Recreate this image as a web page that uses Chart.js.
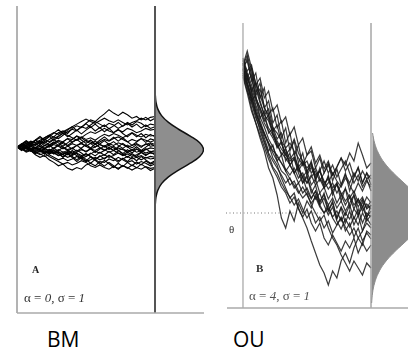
<!DOCTYPE html>
<html>
<head>
<meta charset="utf-8">
<script src="https://cdn.jsdelivr.net/npm/chart.js@4.4.0/dist/chart.umd.min.js"></script>
<style>
    body { margin: 0; background: #fff; }
    #page { position: relative; width: 408px; height: 353px; overflow: hidden; }
    #boxA { position: absolute; left: 0; top: 0; }
    #boxB { position: absolute; left: 204px; top: 0; }
    .name { position: absolute; top: 325px; font: 21px "Open Sans", sans-serif; color: #000; }
</style>
</head>
<body>
<div id="page">
    <canvas id="boxA" width="204" height="320"></canvas>
    <canvas id="boxB" width="204" height="320"></canvas>
    <div class="name" style="left:47px">BM</div>
    <div class="name" style="left:233px">OU</div>
</div>
<script>
// time steps (0..30 = t from 0 to 1)
const steps = [0,1,2,3,4,5,6,7,8,9,10,11,12,13,14,15,16,17,18,19,20,21,22,23,24,25,26,27,28,29,30];

// BM paths, alpha = 0, sigma = 1
const bm1 = [0,0.15,0.05,0.25,0.4,0.3,0.55,0.7,0.6,0.85,0.95,0.8,1.1,1.25,1.15,1.4,1.6,1.5,1.75,1.95,2.2,2.0,1.85,2.05,1.9,1.7,1.8,1.6,1.75,1.55,1.7];
const bm2 = [0,-0.1,-0.3,-0.2,-0.45,-0.6,-0.5,-0.75,-0.9,-1.1,-1.0,-1.25,-1.35,-1.2,-1.3,-1.05,-0.95,-1.1,-0.85,-0.9,-0.7,-0.8,-0.6,-0.75,-0.9,-0.8,-1.0,-0.85,-0.95,-1.1,-1.0];
const bm3 = [0,0.1,0.2,0.05,0.15,0.35,0.25,0.45,0.6,0.5,0.7,0.9,1.05,0.95,1.2,1.1,1.3,1.5,1.35,1.2,1.4,1.3,1.1,1.25,1.45,1.3,1.5,1.4,1.2,1.35,1.3];
const bm4 = [0,-0.05,0.1,0.2,0.1,0.3,0.2,0.1,0.25,0.4,0.3,0.5,0.45,0.65,0.55,0.75,0.9,0.8,0.95,1.1,0.95,0.85,1.0,0.9,1.1,1.0,0.85,0.95,1.1,1.0,1.05];
const bm5 = [0,0.12,-0.05,0.08,0.2,0.05,-0.1,0.05,0.2,0.35,0.2,0.1,0.3,0.45,0.6,0.45,0.55,0.4,0.6,0.75,0.65,0.8,0.7,0.55,0.7,0.85,0.7,0.6,0.75,0.65,0.7];
const bm6 = [0,-0.1,0.05,-0.05,-0.2,-0.1,0.1,0.0,0.15,0.05,-0.1,0.05,0.2,0.1,0.25,0.4,0.3,0.15,0.3,0.45,0.35,0.5,0.6,0.45,0.3,0.45,0.35,0.5,0.4,0.3,0.4];
const bm7 = [0,0.05,-0.1,-0.2,-0.05,-0.15,-0.3,-0.2,-0.05,0.1,0.0,-0.15,-0.05,0.1,0.2,0.05,-0.1,0.0,0.15,0.05,0.2,0.1,0.25,0.15,0.0,0.1,0.2,0.05,0.15,0.25,0.15];
const bm8 = [0,-0.15,-0.05,-0.2,-0.35,-0.25,-0.1,-0.2,-0.35,-0.5,-0.4,-0.3,-0.45,-0.3,-0.15,-0.25,-0.1,-0.2,-0.05,-0.15,-0.3,-0.2,-0.05,-0.15,-0.3,-0.2,-0.1,-0.25,-0.15,-0.05,-0.1];
const bm9 = [0,0.1,0.0,-0.15,-0.05,-0.2,-0.35,-0.25,-0.4,-0.3,-0.45,-0.6,-0.5,-0.35,-0.5,-0.4,-0.55,-0.7,-0.55,-0.45,-0.6,-0.5,-0.35,-0.5,-0.4,-0.55,-0.45,-0.3,-0.45,-0.35,-0.4];
const bm10 = [0,-0.05,-0.2,-0.1,-0.25,-0.4,-0.55,-0.45,-0.6,-0.75,-0.65,-0.8,-0.7,-0.55,-0.7,-0.85,-0.75,-0.6,-0.75,-0.65,-0.5,-0.65,-0.8,-0.7,-0.55,-0.7,-0.6,-0.75,-0.6,-0.7,-0.65];
const bm11 = [0,0.15,0.3,0.2,0.4,0.55,0.45,0.3,0.5,0.65,0.8,0.7,0.55,0.4,0.55,0.35,0.2,0.35,0.15,0.0,0.1,-0.05,-0.2,-0.1,-0.25,-0.15,-0.3,-0.2,-0.35,-0.25,-0.3];
const bm12 = [0,-0.1,-0.25,-0.15,-0.3,-0.45,-0.35,-0.55,-0.7,-0.85,-1.0,-0.9,-1.05,-0.95,-0.8,-0.9,-1.1,-1.2,-1.05,-1.2,-1.3,-1.15,-1.25,-1.1,-1.2,-1.35,-1.2,-1.3,-1.15,-1.25,-1.2];
const bm13 = [0,0.05,0.2,0.35,0.25,0.4,0.55,0.7,0.85,0.75,0.9,1.05,1.2,1.35,1.5,1.65,1.5,1.4,1.55,1.7,1.55,1.45,1.6,1.45,1.3,1.45,1.55,1.7,1.6,1.75,1.8];
const bm14 = [0,-0.05,0.05,-0.1,0.0,-0.15,-0.25,-0.4,-0.3,-0.15,-0.3,-0.2,-0.35,-0.5,-0.65,-0.55,-0.4,-0.25,-0.35,-0.2,-0.05,-0.2,-0.35,-0.45,-0.3,-0.45,-0.6,-0.5,-0.65,-0.55,-0.6];
const bm15 = [0,0.2,0.0,0.18,-0.05,0.15,0.35,0.12,0.3,0.1,0.32,0.5,0.28,0.45,0.25,0.05,0.22,0.0,0.18,0.38,0.15,0.32,0.1,-0.08,0.12,-0.05,0.15,-0.02,0.2,0.05,0.1];
const bm16 = [0,-0.18,0.02,-0.2,-0.4,-0.15,-0.35,-0.12,-0.3,-0.5,-0.28,-0.45,-0.2,-0.4,-0.6,-0.38,-0.55,-0.75,-0.5,-0.7,-0.48,-0.68,-0.9,-0.65,-0.85,-0.6,-0.8,-0.55,-0.75,-0.95,-0.8];
const bm17 = [0,0.15,0.35,0.15,0.4,0.2,0.45,0.65,0.4,0.6,0.85,0.6,0.8,1.0,0.78,1.0,1.2,0.95,1.15,0.9,1.1,0.85,1.05,0.8,0.6,0.82,0.6,0.8,0.55,0.75,0.6];
const bm18 = [0,-0.12,0.08,-0.1,-0.28,-0.05,-0.22,-0.42,-0.2,-0.38,-0.6,-0.4,-0.62,-0.85,-0.6,-0.82,-0.58,-0.78,-1.0,-0.78,-0.98,-1.2,-0.95,-1.15,-0.9,-1.1,-0.88,-1.05,-0.82,-1.0,-0.9];
const bm19 = [0,0.1,-0.1,0.08,-0.12,-0.3,-0.08,0.12,-0.1,0.1,0.3,0.08,-0.12,0.1,-0.1,-0.3,-0.1,-0.32,-0.12,0.08,-0.15,0.05,-0.18,-0.38,-0.15,-0.35,-0.12,-0.3,-0.1,-0.28,-0.2];
const bm20 = [0,0.18,0.38,0.2,0.42,0.62,0.4,0.6,0.82,1.02,0.8,1.0,1.2,0.98,1.18,1.38,1.15,1.35,1.12,1.3,1.08,1.25,1.45,1.22,1.4,1.18,1.35,1.12,1.3,1.1,1.2];
const bm21 = [0,-0.2,-0.02,-0.22,-0.05,0.15,-0.05,-0.25,-0.05,-0.25,-0.45,-0.25,-0.05,-0.25,-0.05,0.15,-0.05,0.18,-0.02,-0.2,0.0,-0.2,0.02,0.22,0.02,-0.18,0.02,-0.2,0.0,0.2,0.05];
const bm22 = [0,0.08,0.25,0.05,-0.12,0.05,-0.15,-0.35,-0.15,-0.38,-0.58,-0.35,-0.55,-0.75,-0.52,-0.72,-0.95,-0.72,-0.92,-1.12,-0.9,-1.1,-1.3,-1.08,-1.25,-1.05,-1.22,-1.0,-1.18,-1.38,-1.25];
const bm23 = [0,-0.08,0.12,0.3,0.1,0.28,0.08,0.25,0.45,0.25,0.05,0.25,0.45,0.65,0.42,0.22,0.42,0.2,0.4,0.6,0.38,0.58,0.35,0.55,0.32,0.1,0.3,0.5,0.28,0.48,0.4];
const bm24 = [0,0.12,-0.08,-0.25,-0.05,-0.22,-0.42,-0.22,-0.4,-0.2,-0.02,-0.2,-0.38,-0.18,-0.35,-0.55,-0.35,-0.52,-0.3,-0.48,-0.25,-0.45,-0.22,-0.4,-0.6,-0.38,-0.55,-0.32,-0.5,-0.3,-0.45];

// density at the right of panel A
const bmLevels = [3.05,2.65,2.25,1.85,1.45,1.05,0.65,0.25,-0.15,-0.55,-0.95,-1.35,-1.75,-2.15,-2.55,-2.95,-3.35];
const bmDensity = [0.0024,0.0079,0.0224,0.054,0.111,0.194,0.290,0.368,0.399,0.368,0.290,0.194,0.111,0.054,0.0224,0.0079,0.0024];

// OU paths, alpha = 4, sigma = 1, theta = 0
const ou1 = [1.48,1.62,1.45,1.30,1.18,1.05,0.98,0.85,0.80,0.72,0.65,0.70,0.62,0.55,0.48,0.52,0.40,0.45,0.35,0.28,0.36,0.25,0.30,0.18,0.24,0.15,0.22,0.10,0.16,0.05,0.12];
const ou2 = [1.45,1.35,1.25,1.12,1.02,0.90,0.82,0.75,0.66,0.70,0.58,0.64,0.74,0.60,0.52,0.45,0.50,0.38,0.42,0.30,0.34,0.22,0.28,0.20,0.12,0.18,0.08,0.14,0.02,0.09,0.04];
const ou3 = [1.40,1.25,1.05,0.90,0.75,0.62,0.45,0.35,0.18,-0.05,-0.15,0.02,-0.08,0.10,0.0,0.12,0.05,0.18,0.08,0.15,0.02,0.10,-0.05,0.06,-0.02,0.08,-0.06,0.04,-0.10,0.0,-0.04];
const ou4 = [1.50,1.38,1.20,1.05,0.92,0.80,0.68,0.55,0.48,0.35,0.25,0.15,0.20,0.05,-0.05,-0.15,-0.28,-0.40,-0.52,-0.60,-0.72,-0.58,-0.65,-0.48,-0.40,-0.50,-0.35,-0.25,-0.32,-0.18,-0.22];
const ou5 = [1.46,1.30,1.18,1.00,0.90,0.78,0.70,0.60,0.52,0.42,0.38,0.28,0.32,0.22,0.15,0.20,0.08,0.0,-0.08,-0.02,-0.15,-0.25,-0.32,-0.42,-0.50,-0.58,-0.48,-0.55,-0.62,-0.50,-0.55];
const ou6 = [1.42,1.28,1.15,1.02,0.88,0.80,0.70,0.62,0.58,0.50,0.44,0.38,0.45,0.35,0.40,0.30,0.36,0.42,0.32,0.40,0.48,0.38,0.46,0.55,0.48,0.60,0.52,0.70,0.58,0.45,0.50];
const ou7 = [1.38,1.22,1.10,0.95,0.85,0.72,0.60,0.52,0.45,0.38,0.30,0.35,0.25,0.30,0.20,0.25,0.15,0.22,0.12,0.18,0.08,0.15,0.05,0.12,0.02,0.10,0.18,0.06,0.14,0.04,0.08];
const ou8 = [1.52,1.40,1.28,1.15,1.05,0.95,0.85,0.78,0.68,0.60,0.55,0.48,0.40,0.46,0.36,0.30,0.38,0.28,0.34,0.25,0.30,0.40,0.32,0.26,0.35,0.28,0.20,0.30,0.22,0.32,0.26];
const ou9 = [1.44,1.30,1.12,0.98,0.82,0.70,0.58,0.46,0.40,0.30,0.22,0.16,0.08,0.14,0.04,-0.05,0.02,-0.10,-0.04,-0.15,-0.08,-0.20,-0.12,-0.05,-0.14,-0.22,-0.15,-0.25,-0.18,-0.10,-0.15];
const ou10 = [1.55,1.35,1.22,1.08,0.96,0.86,0.74,0.66,0.56,0.50,0.42,0.34,0.28,0.20,0.26,0.18,0.10,0.16,0.06,0.0,0.05,-0.04,0.02,-0.08,0.0,-0.06,0.04,-0.02,0.06,-0.04,0.02];
const ou11 = [1.47,1.58,1.40,1.25,1.10,0.98,0.92,0.80,0.72,0.64,0.58,0.52,0.56,0.46,0.52,0.42,0.48,0.36,0.42,0.32,0.24,0.30,0.20,0.28,0.38,0.30,0.40,0.32,0.42,0.34,0.38];
const ou12 = [1.36,1.20,1.02,0.90,0.78,0.66,0.54,0.44,0.36,0.26,0.20,0.10,0.16,0.04,-0.04,0.04,-0.10,-0.18,-0.10,-0.25,-0.32,-0.22,-0.30,-0.38,-0.28,-0.35,-0.25,-0.40,-0.30,-0.38,-0.32];
const ou13 = [1.50,1.35,1.45,1.20,1.30,1.05,1.12,0.90,0.98,0.75,0.85,0.62,0.72,0.50,0.60,0.40,0.52,0.32,0.45,0.25,0.38,0.18,0.30,0.12,0.25,0.05,0.18,-0.02,0.12,-0.05,0.08];
const ou14 = [1.42,1.55,1.32,1.40,1.15,1.25,0.98,1.05,0.85,0.92,0.70,0.80,0.58,0.68,0.48,0.58,0.62,0.45,0.55,0.40,0.50,0.32,0.44,0.28,0.40,0.22,0.36,0.45,0.30,0.40,0.28];
const ou15 = [1.38,1.28,1.12,1.18,0.95,1.02,0.80,0.85,0.65,0.72,0.52,0.60,0.40,0.48,0.30,0.38,0.20,0.28,0.10,0.20,0.02,0.12,-0.06,0.05,-0.10,0.02,-0.12,-0.02,-0.18,-0.05,-0.12];
const ou16 = [1.53,1.42,1.48,1.28,1.35,1.15,1.22,1.02,1.08,0.90,0.96,0.78,0.86,0.68,0.75,0.58,0.66,0.50,0.58,0.44,0.52,0.38,0.46,0.55,0.42,0.50,0.36,0.46,0.30,0.40,0.34];
const ou17 = [1.44,1.32,1.38,1.15,1.05,0.92,0.98,0.78,0.70,0.58,0.64,0.48,0.40,0.30,0.36,0.22,0.14,0.22,0.08,0.0,0.08,-0.05,-0.12,-0.04,-0.18,-0.10,-0.24,-0.15,-0.28,-0.20,-0.26];
const ou18 = [1.48,1.38,1.22,1.30,1.12,0.98,1.04,0.86,0.74,0.80,0.64,0.54,0.60,0.44,0.36,0.42,0.28,0.34,0.20,0.26,0.14,0.22,0.10,0.18,0.08,0.16,0.04,0.14,0.06,0.16,0.10];
const ou19 = [1.40,1.30,1.15,1.00,0.88,0.75,0.62,0.68,0.52,0.58,0.42,0.48,0.55,0.42,0.50,0.38,0.46,0.34,0.42,0.52,0.40,0.48,0.36,0.44,0.52,0.40,0.30,0.38,0.26,0.34,0.22];
const ou20 = [1.46,1.52,1.34,1.18,1.24,1.06,0.94,0.82,0.88,0.70,0.60,0.48,0.54,0.40,0.30,0.36,0.24,0.14,0.20,0.08,-0.02,0.06,-0.08,-0.16,-0.06,-0.14,-0.04,-0.12,0.0,-0.08,-0.02];

// stationary density at the right of panel B
const ouLevels = [0.8,0.7,0.6,0.5,0.4,0.3,0.2,0.1,0,-0.1,-0.2,-0.3,-0.4,-0.5,-0.6,-0.7,-0.8,-0.9];
const ouDensity = [0.0377,0.088,0.180,0.330,0.548,0.806,1.063,1.257,1.330,1.257,1.063,0.806,0.548,0.330,0.180,0.088,0.0377,0.0148];

const bmPaths = [bm1, bm2, bm3, bm4, bm5, bm6, bm7, bm8, bm9, bm10, bm11, bm12, bm13, bm14, bm15, bm16, bm17, bm18, bm19, bm20, bm21, bm22, bm23, bm24];
const ouPaths = [ou1, ou2, ou3, ou4, ou5, ou6, ou7, ou8, ou9, ou10, ou11, ou12, ou13, ou14, ou15, ou16, ou17, ou18, ou19, ou20];

function pathPoints(vals) {
    return vals.map((v, i) => ({ x: steps[i], y: v }));
}

// density is laid on its side, starting at the last time step
function densityPoints(levels, dens, widthScale) {
    return levels.map((lv, i) => ({ x: steps[steps.length - 1] + dens[i] * widthScale, y: lv }));
}

function drawRuns(ctx, runs, x, y, size, color) {
    ctx.fillStyle = color;
    ctx.textBaseline = 'alphabetic';
    ctx.textAlign = 'left';
    runs.forEach(([txt, style]) => {
        ctx.font = `${style} ${size}px "Liberation Serif"`;
        ctx.fillText(txt, x, y);
        x += ctx.measureText(txt).width;
    });
}

function vline(ctx, x, y1, y2, color, w) {
    ctx.beginPath();
    ctx.strokeStyle = color;
    ctx.lineWidth = w;
    ctx.moveTo(x, y1);
    ctx.lineTo(x, y2);
    ctx.stroke();
}

function hline(ctx, x1, x2, y, color, w, dash) {
    ctx.save();
    ctx.beginPath();
    ctx.setLineDash(dash || []);
    ctx.strokeStyle = color;
    ctx.lineWidth = w;
    ctx.moveTo(x1, y);
    ctx.lineTo(x2, y);
    ctx.stroke();
    ctx.restore();
}

// frame + labels for panel A
const frameA = {
    id: 'frameA',
    afterDatasetsDraw(chart) {
        const ctx = chart.ctx, xs = chart.scales.x, ca = chart.chartArea;
        const x0 = xs.getPixelForValue(0), x1 = xs.getPixelForValue(30);
        vline(ctx, x0, ca.top, ca.bottom, '#9a9a9a', 1.5);
        vline(ctx, x1, ca.top, ca.bottom, '#555', 2);
        hline(ctx, x0, ca.right, ca.bottom, '#aaa', 1.5);
        drawRuns(ctx, [['A', 'bold']], x0 + 15, ca.bottom - 40, 10, '#222');
        drawRuns(ctx, [['α = ', ''], ['0', 'italic'], [', σ = ', ''], ['1', 'italic']], x0 + 7, ca.bottom - 11, 13, '#333');
    }
};

// frame + labels for panel B
const frameB = {
    id: 'frameB',
    beforeDatasetsDraw(chart) {
        const ctx = chart.ctx, ys = chart.scales.y, ca = chart.chartArea;
        hline(ctx, ca.left + 2, ca.right, ys.getPixelForValue(0), '#777', 1, [1, 2.5]);
    },
    afterDatasetsDraw(chart) {
        const ctx = chart.ctx, xs = chart.scales.x, ys = chart.scales.y, ca = chart.chartArea;
        const x0 = xs.getPixelForValue(0), x1 = xs.getPixelForValue(30);
        vline(ctx, x0, ca.top, ca.bottom, '#aaa', 1.3);
        vline(ctx, x1, ca.top, ca.bottom, '#999', 1.3);
        hline(ctx, ca.left + 3, ca.right, ca.bottom, '#aaa', 1.5);
        drawRuns(ctx, [['θ', '']], x0 - 14, ys.getPixelForValue(0) + 20, 11, '#333');
        drawRuns(ctx, [['B', 'bold']], x0 + 13, ca.bottom - 36, 11, '#333');
        drawRuns(ctx, [['α = ', ''], ['4', 'italic'], [', σ = ', ''], ['1', 'italic']], x0 + 6, ca.bottom - 8, 13, '#555');
    }
};

function baseOptions(xMin, xMax, yMin, yMax, padding) {
    return {
        responsive: false,
        animation: false,
        events: [],
        layout: { padding: padding },
        elements: { point: { radius: 0 } },
        plugins: { legend: { display: false }, tooltip: { enabled: false } },
        scales: {
            x: { type: 'linear', min: xMin, max: xMax, display: false },
            y: { type: 'linear', min: yMin, max: yMax, display: false }
        }
    };
}

const dataA = bmPaths.map(p => ({
    data: pathPoints(p),
    borderColor: '#000',
    borderWidth: 1.1,
    fill: false,
    tension: 0
}));
dataA.push({
    data: densityPoints(bmLevels, bmDensity, 26.4),
    borderColor: '#111',
    backgroundColor: '#8e8e8e',
    borderWidth: 1.5,
    fill: 'shape',
    tension: 0.4
});

new Chart(document.getElementById('boxA'), {
    type: 'line',
    data: { datasets: dataA },
    options: baseOptions(0, 40.65, -9.76, 8.3, { left: 17, top: 6, right: 0, bottom: 7 }),
    plugins: [frameA]
});

const dataB = [{
    data: densityPoints(ouLevels, ouDensity, 9.6),
    borderColor: '#8c8c8c',
    backgroundColor: '#8c8c8c',
    borderWidth: 1,
    fill: 'shape',
    tension: 0.4
}];
ouPaths.forEach(p => dataB.push({
    data: pathPoints(p),
    borderColor: 'rgba(25,25,25,0.85)',
    borderWidth: 1.2,
    fill: false,
    tension: 0
}));

new Chart(document.getElementById('boxB'), {
    type: 'line',
    data: { datasets: dataB },
    options: baseOptions(-4.45, 38.67, -0.95, 1.9, { left: 20, top: 23, right: 0, bottom: 12 }),
    plugins: [frameB]
});
</script>
</body>
</html>
